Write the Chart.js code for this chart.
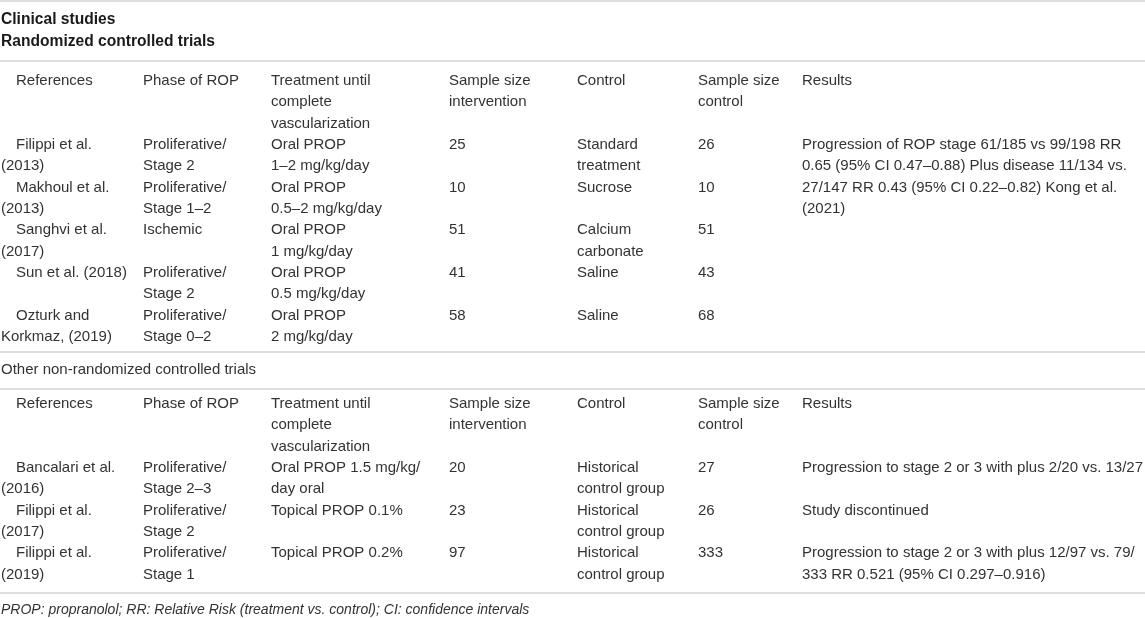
<!DOCTYPE html>
<html>
<head>
<meta charset="utf-8">
<script src="https://cdn.jsdelivr.net/npm/chart.js@4"></script>
<style>
html,body{margin:0;padding:0;background:#fff;}
#wrap{width:1145px;height:618px;position:relative;}
</style>
</head>
<body>
<div id="wrap"><canvas id="c"></canvas></div>
<script>
// ---- table content ----
const titleLines = ["Clinical studies", "Randomized controlled trials"];
const headers = [["References"], ["Phase of ROP"], ["Treatment until", "complete", "vascularization"],
  ["Sample size", "intervention"], ["Control"], ["Sample size", "control"], ["Results"]];

const references1 = [["Filippi et al.", "(2013)"], ["Makhoul et al.", "(2013)"], ["Sanghvi et al.", "(2017)"],
  ["Sun et al. (2018)"], ["Ozturk and", "Korkmaz, (2019)"]];
const phase1 = [["Proliferative/", "Stage 2"], ["Proliferative/", "Stage 1–2"], ["Ischemic"],
  ["Proliferative/", "Stage 2"], ["Proliferative/", "Stage 0–2"]];
const treatment1 = [["Oral PROP", "1–2 mg/kg/day"], ["Oral PROP", "0.5–2 mg/kg/day"], ["Oral PROP", "1 mg/kg/day"],
  ["Oral PROP", "0.5 mg/kg/day"], ["Oral PROP", "2 mg/kg/day"]];
const sampleIntervention1 = [25, 10, 51, 41, 58];
const control1 = [["Standard", "treatment"], ["Sucrose"], ["Calcium", "carbonate"], ["Saline"], ["Saline"]];
const sampleControl1 = [26, 10, 51, 43, 68];
const results1 = [["Progression of ROP stage 61/185 vs 99/198 RR", "0.65 (95% CI 0.47–0.88) Plus disease 11/134 vs.",
  "27/147 RR 0.43 (95% CI 0.22–0.82) Kong et al.", "(2021)"], [], [], [], []];

const sectionTwoTitle = "Other non-randomized controlled trials";
const references2 = [["Bancalari et al.", "(2016)"], ["Filippi et al.", "(2017)"], ["Filippi et al.", "(2019)"]];
const phase2 = [["Proliferative/", "Stage 2–3"], ["Proliferative/", "Stage 2"], ["Proliferative/", "Stage 1"]];
const treatment2 = [["Oral PROP 1.5 mg/kg/", "day oral"], ["Topical PROP 0.1%"], ["Topical PROP 0.2%"]];
const sampleIntervention2 = [20, 23, 97];
const control2 = [["Historical", "control group"], ["Historical", "control group"], ["Historical", "control group"]];
const sampleControl2 = [27, 26, 333];
const results2 = [["Progression to stage 2 or 3 with plus 2/20 vs. 13/27"], ["Study discontinued"],
  ["Progression to stage 2 or 3 with plus 12/97 vs. 79/", "333 RR 0.521 (95% CI 0.297–0.916)"]];

const footnote = "PROP: propranolol; RR: Relative Risk (treatment vs. control); CI: confidence intervals";

// ---- layout (scale units = pixels of the 1145x618 page) ----
const layout = {
  colX: [1, 143, 271, 449, 577, 698, 802],
  firstIndent: 15,
  lineH: 21.3,
  titleY: [20, 42],
  rules: [1, 61, 352, 389, 593],
  sec1HeaderY: 81,
  sec1FirstRowY: 145,
  sec2TitleY: 370,
  sec2HeaderY: 404,
  sec2FirstRowY: 468,
  footY: 610,
  rowLines: 2
};

function buildRows(refs, phase, treat, sInt, ctrl, sCtl, res) {
  return refs.map((r, i) => [r, phase[i], treat[i], [String(sInt[i])], ctrl[i], [String(sCtl[i])], res[i]]);
}
const rows1 = buildRows(references1, phase1, treatment1, sampleIntervention1, control1, sampleControl1, results1);
const rows2 = buildRows(references2, phase2, treatment2, sampleIntervention2, control2, sampleControl2, results2);

const tablePlugin = {
  id: 'tablePlugin',
  afterDraw(chart) {
    const ctx = chart.ctx;
    const xs = chart.scales.x, ys = chart.scales.y;
    const X = v => xs.getPixelForValue(v);
    const Y = v => ys.getPixelForValue(v);
    ctx.save();
    // rules
    ctx.strokeStyle = '#dedede';
    ctx.lineWidth = 2;
    layout.rules.forEach(r => {
      ctx.beginPath();
      ctx.moveTo(X(0), Y(r));
      ctx.lineTo(X(1145), Y(r));
      ctx.stroke();
    });
    ctx.textBaseline = 'middle';
    ctx.textAlign = 'left';
    // titles
    ctx.fillStyle = '#1a1a1a';
    ctx.font = 'bold 15.6px "Liberation Sans", Arial, sans-serif';
    titleLines.forEach((t, i) => ctx.fillText(t, X(1), Y(layout.titleY[i])));
    // body text
    ctx.fillStyle = '#333333';
    ctx.font = '15px "Liberation Sans", Arial, sans-serif';
    const drawCell = (lines, col, y0) => {
      lines.forEach((ln, k) => {
        const x = layout.colX[col] + (col === 0 && k === 0 ? layout.firstIndent : 0);
        ctx.fillText(ln, X(x), Y(y0 + k * layout.lineH));
      });
    };
    const drawSection = (headerY, firstRowY, rows) => {
      headers.forEach((h, c) => drawCell(h, c, headerY));
      rows.forEach((row, i) => {
        const y0 = firstRowY + i * layout.rowLines * layout.lineH;
        row.forEach((cell, c) => drawCell(cell, c, y0));
      });
    };
    drawSection(layout.sec1HeaderY, layout.sec1FirstRowY, rows1);
    ctx.fillText(sectionTwoTitle, X(1), Y(layout.sec2TitleY));
    drawSection(layout.sec2HeaderY, layout.sec2FirstRowY, rows2);
    // footnote
    ctx.font = 'italic 14px "Liberation Sans", Arial, sans-serif';
    ctx.fillText(footnote, X(1), Y(layout.footY));
    ctx.restore();
  }
};

new Chart(document.getElementById('c'), {
  type: 'scatter',
  data: { datasets: [{ data: [], pointRadius: 0 }] },
  options: {
    responsive: true,
    maintainAspectRatio: false,
    animation: false,
    layout: { padding: 0 },
    plugins: { legend: { display: false }, tooltip: { enabled: false } },
    scales: {
      x: { type: 'linear', min: 0, max: 1145, display: false },
      y: { type: 'linear', min: 0, max: 618, reverse: true, display: false }
    }
  },
  plugins: [tablePlugin]
});
</script>
</body>
</html>
